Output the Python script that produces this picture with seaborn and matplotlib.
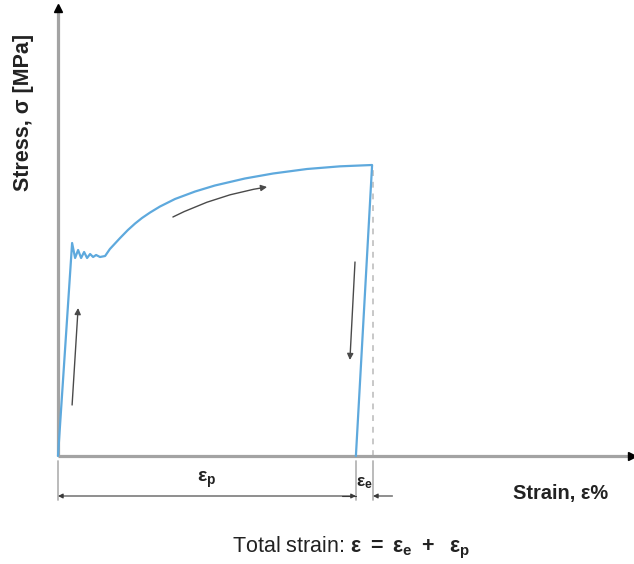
import numpy as np
import pandas as pd
import seaborn as sns
import matplotlib
matplotlib.use("Agg")
import matplotlib.pyplot as plt

# Curve data (strain in %, stress in MPa)
strain = [0.0, 0.47, 0.57, 0.67, 0.77, 0.87, 0.97, 1.07, 1.17, 1.27, 1.40, 1.57,
          1.73, 1.90, 2.07, 2.33, 2.57, 2.80, 3.07, 3.40, 3.90, 4.57, 5.23, 6.23,
          7.17, 8.30, 9.40, 10.47, 9.93]
stress = [0.0, 255.6, 237.6, 247.2, 237.6, 244.8, 237.6, 242.4, 238.8, 241.2, 238.8, 240.0,
          248.4, 255.0, 261.6, 271.2, 279.0, 285.6, 292.2, 299.4, 308.4, 317.4, 324.6,
          333.0, 339.0, 344.4, 347.6, 349.2, 0.0]

# strain values used for the dimension lines
eps_total = 10.5      # elastic + plastic
eps_plastic = 9.93    # where unloading hits zero stress
peak_stress = 345.0

# direction arrows (start, end)
arrow_load = [(0.47, 61.2), (0.67, 177.6)]
arrow_harden = [(3.83, 286.8), (6.97, 322.8)]
arrow_unload = [(9.90, 232.8), (9.73, 115.2)]

df = pd.DataFrame({"strain": strain, "stress": stress})

sns.set_style("white")
plt.rcParams["font.family"] = ["Liberation Sans", "DejaVu Sans"]
plt.rcParams["mathtext.fontset"] = "custom"
plt.rcParams["mathtext.rm"] = "Liberation Sans"
plt.rcParams["mathtext.bf"] = "Liberation Sans:bold"
plt.rcParams["mathtext.it"] = "Liberation Sans:italic"

fig = plt.figure(figsize=(6.34, 5.64), dpi=100)
ax = fig.add_axes([0, 0, 1, 1])
ax.set_axis_off()
# pixel mapping: origin at (58, 456), 30 px per % strain, 1.2 MPa per px
ax.set_xlim(-58 / 30, (634 - 58) / 30)
ax.set_ylim(-(564 - 456) * 1.2, 456 * 1.2)

grey = "#a3a3a3"
blue = "#5ea9dd"

# axes with arrow heads
x_end = (632 - 58) / 30
y_end = (456 - 8) * 1.2
ax.plot([0, x_end], [0, 0], color=grey, lw=2.3, solid_capstyle="butt", zorder=2)
ax.plot([0, 0], [0, y_end], color=grey, lw=2.3, solid_capstyle="butt", zorder=2)
ax.plot([x_end], [0], marker=">", color="black", ms=5.5, zorder=3)
ax.plot([0], [y_end], marker="^", color="black", ms=5.5, zorder=3)

# elastic-offset guide
ax.plot([eps_total, eps_total], [0, peak_stress], color="#c8c8c8", lw=1.4,
        linestyle=(0, (3, 3)), zorder=1)

sns.lineplot(data=df, x="strain", y="stress", sort=False, estimator=None,
             color=blue, lw=1.6, ax=ax, zorder=4)

# direction arrows
for (x0, y0), (x1, y1), rad in [(arrow_load[0], arrow_load[1], 0.0),
                                 (arrow_harden[0], arrow_harden[1], -0.08),
                                 (arrow_unload[0], arrow_unload[1], 0.0)]:
    ax.annotate("", xy=(x1, y1), xytext=(x0, y0),
                arrowprops=dict(arrowstyle="-|>", color="#4a4a4a", lw=1.0,
                                mutation_scale=9, shrinkA=0, shrinkB=0,
                                connectionstyle=f"arc3,rad={rad}"))

# dimension lines below the x-axis
ext_top, ext_bot, dim_y = -6, -52.8, -48
for xv in [0, eps_plastic, eps_total]:
    ax.plot([xv, xv], [ext_top, ext_bot], color="#b5b5b5", lw=1.3)
ax.annotate("", xy=(eps_plastic, dim_y), xytext=(0, dim_y),
            arrowprops=dict(arrowstyle="<|-|>", color="#3a3a3a", lw=0.8,
                            mutation_scale=7, shrinkA=0, shrinkB=0))
ax.annotate("", xy=(eps_total, dim_y), xytext=(eps_total + 0.65, dim_y),
            arrowprops=dict(arrowstyle="-|>", color="#3a3a3a", lw=0.8,
                            mutation_scale=7, shrinkA=0, shrinkB=0))
ax.plot([eps_plastic - 0.45, eps_plastic], [dim_y, dim_y], color="#3a3a3a", lw=0.8)

ax.text(eps_plastic / 2, -28.8, r"$\mathbf{ε_p}$", ha="center", va="center",
        fontsize=14, color="#222222")
ax.text((eps_plastic + eps_total) / 2, -32.4, r"$\mathbf{ε_e}$", ha="center",
        va="center", fontsize=12.5, color="#222222")

# labels
ax.text(-58 / 30 + 23 / 30, (456 - 112) * 1.2, "Stress, σ [MPa]", rotation=90,
        ha="center", va="center", fontsize=15.5, fontweight="bold", color="#222222")
ax.text((561 - 58) / 30, -(493 - 456) * 1.2, "Strain, ε%", ha="center",
        va="center", fontsize=14.4, fontweight="bold", color="#222222")
ax.text((351 - 58) / 30, -(548 - 456) * 1.2,
        r"Total strain: $\mathbf{ε\ =\ ε_e\ +\ \ ε_p}$", ha="center",
        va="center", fontsize=15.5, color="#222222")

fig.savefig("out.png", dpi=100)
